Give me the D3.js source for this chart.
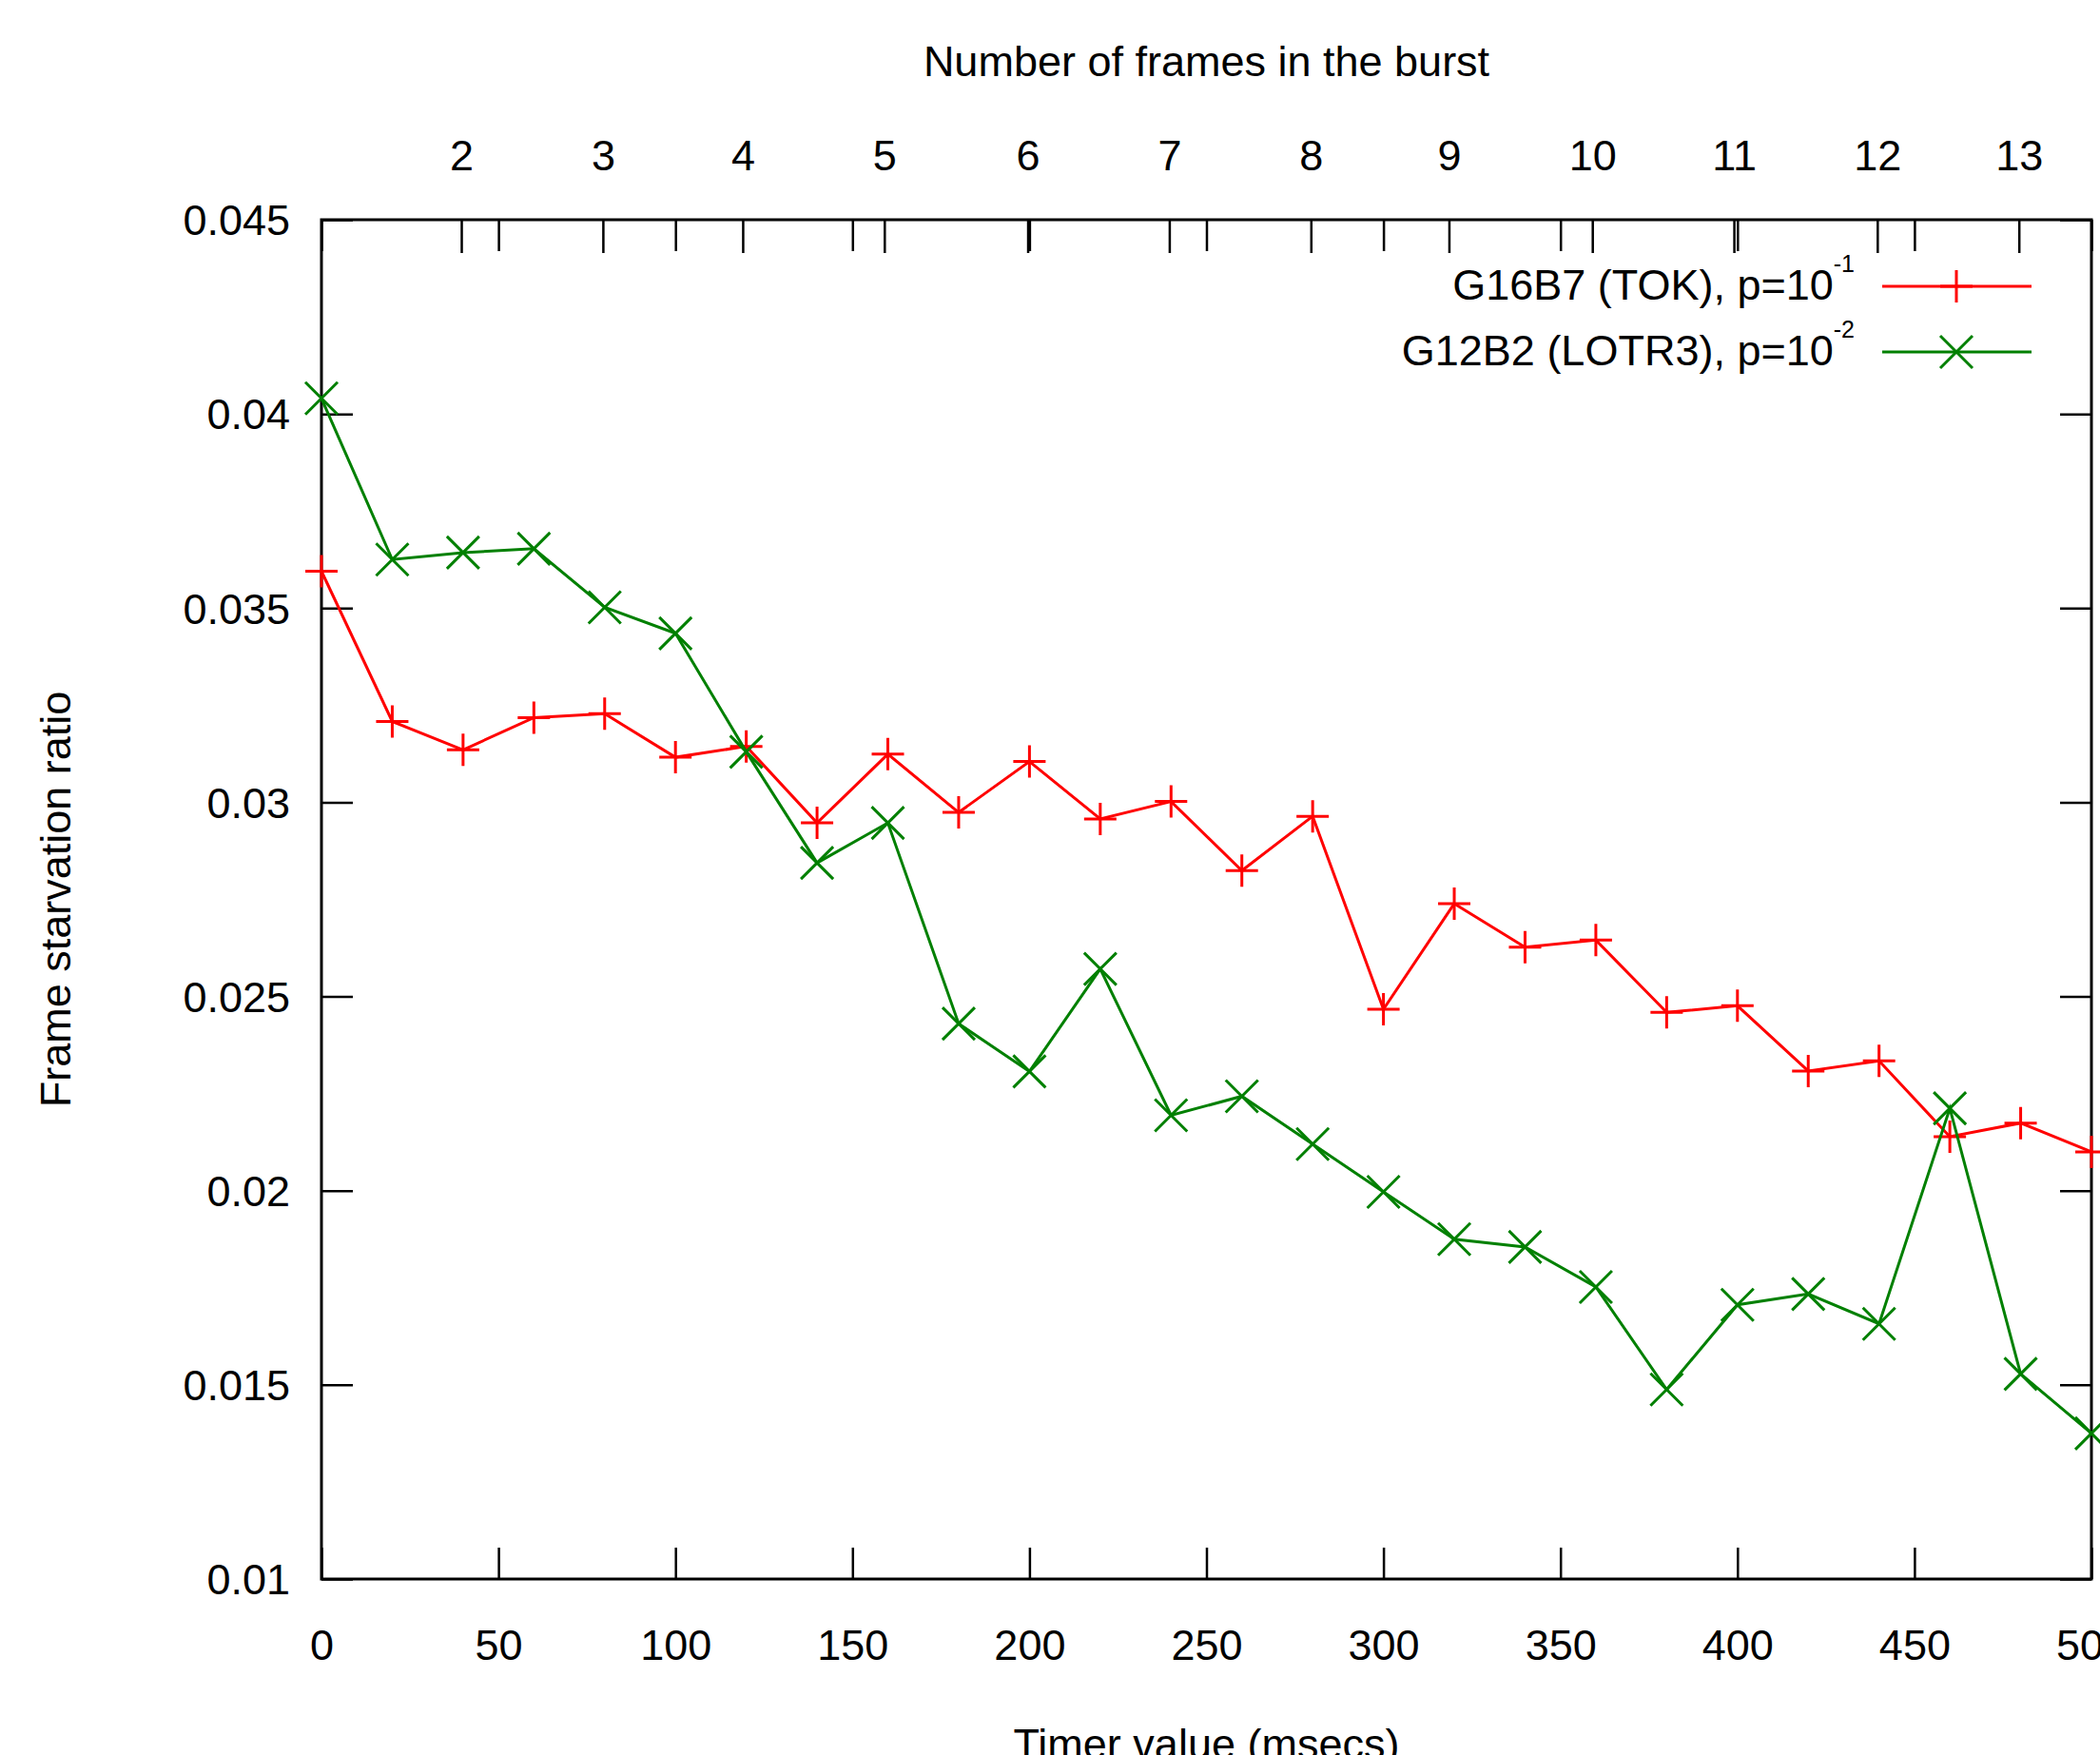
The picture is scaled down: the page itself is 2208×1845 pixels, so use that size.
<!DOCTYPE html>
<html>
<head>
<meta charset="utf-8">
<script src="https://cdn.jsdelivr.net/npm/d3@7"></script>
<style>
  body { margin: 0; background: #fff; }
  svg { display: block; }
  text { font-family: "Liberation Sans", Arial, Helvetica, sans-serif; fill: #000; }
</style>
</head>
<body>
<div id="chart"></div>
<script>
// timer values (msecs) on the x axis
var timerMs = [0, 20, 40, 60, 80, 100, 120, 140, 160, 180, 200, 220, 240,
               260, 280, 300, 320, 340, 360, 380, 400, 420, 440, 460, 480, 500];

// G16B7 (TOK), p=10^-1
var tokRatio = [0.03595, 0.03208, 0.03135, 0.03218, 0.03228, 0.03116, 0.03144,
                0.02947, 0.03124, 0.02974, 0.03105, 0.02957, 0.03002, 0.02824,
                0.02964, 0.02467, 0.02739, 0.02627, 0.02645, 0.02459, 0.02476,
                0.02308, 0.02334, 0.02139, 0.02174, 0.02100];

// G12B2 (LOTR3), p=10^-2
var lotrRatio = [0.04040, 0.03625, 0.03643, 0.03653, 0.03502, 0.03435, 0.03130,
                 0.02844, 0.02947, 0.02430, 0.02307, 0.02571, 0.02194, 0.02243,
                 0.02120, 0.01997, 0.01875, 0.01855, 0.01752, 0.01488, 0.01706,
                 0.01734, 0.01657, 0.02212, 0.01528, 0.01375];

// axis ticks
var xTicks = [0, 50, 100, 150, 200, 250, 300, 350, 400, 450, 500];
var yTicks = [0.01, 0.015, 0.02, 0.025, 0.03, 0.035, 0.04, 0.045];
var yTickLabels = ["0.01", "0.015", "0.02", "0.025", "0.03", "0.035", "0.04", "0.045"];
// top axis: number of frames in the burst, placed at timer value (msecs)
var burstLabels = ["2", "3", "4", "5", "6", "7", "8", "9", "10", "11", "12", "13"];
var burstTickMs = [39.5, 79.5, 119, 159, 199.5, 239.5, 279.5, 318.5, 359, 399, 439.5, 479.5];

var seriesNames = ["G16B7 (TOK), p=10", "G12B2 (LOTR3), p=10"];
var seriesExp = ["-1", "-2"];

(function() {
  var W = 2208, H = 1845
    , plotL = 338, plotR = 2199, plotT = 231, plotB = 1660
    , fontSize = 45
    , tickLen = 33
    , colors = ["#ff0000", "#008000"];

  var svg = d3.select("#chart").append("svg")
      .attr("width", W)
      .attr("height", H);

  svg.append("rect").attr("width", W).attr("height", H).attr("fill", "#fff");

  var x = d3.scaleLinear().domain([0, 500]).range([plotL, plotR]);
  var y = d3.scaleLinear().domain([0.01, 0.045]).range([plotB, plotT]);

  function styleAxis(g) {
    g.select(".domain").remove();
    g.attr("font-size", fontSize)
     .attr("font-family", "'Liberation Sans', Arial, sans-serif");
    g.selectAll(".tick line").attr("stroke", "#000").attr("stroke-width", 2.5);
    g.selectAll(".tick text").attr("fill", "#000");
  }

  // bottom x axis
  svg.append("g")
      .attr("transform", "translate(0," + plotB + ")")
      .call(d3.axisBottom(x).tickValues(xTicks).tickSizeInner(-tickLen).tickSizeOuter(0)
        .tickPadding(53).tickFormat(d3.format("d")))
      .call(styleAxis);

  // mirrored x ticks on top
  svg.append("g")
      .attr("transform", "translate(0," + plotT + ")")
      .call(d3.axisTop(x).tickValues(xTicks).tickSizeInner(-tickLen).tickSizeOuter(0)
        .tickFormat(""))
      .call(styleAxis);

  // top x2 axis (frames in the burst)
  svg.append("g")
      .attr("transform", "translate(0," + plotT + ")")
      .call(d3.axisTop(x).tickValues(burstTickMs).tickSizeInner(-35).tickSizeOuter(0)
        .tickPadding(52).tickFormat(function(d, i) { return burstLabels[i]; }))
      .call(styleAxis);

  // left y axis
  svg.append("g")
      .attr("transform", "translate(" + plotL + ",0)")
      .call(d3.axisLeft(y).tickValues(yTicks).tickSizeInner(-tickLen).tickSizeOuter(0)
        .tickPadding(33).tickFormat(function(d, i) { return yTickLabels[i]; }))
      .call(styleAxis)
      .selectAll(".tick text").attr("dy", "0.35em");

  // mirrored y ticks on right
  svg.append("g")
      .attr("transform", "translate(" + plotR + ",0)")
      .call(d3.axisRight(y).tickValues(yTicks).tickSizeInner(-tickLen).tickSizeOuter(0)
        .tickFormat(""))
      .call(styleAxis);

  // border
  svg.append("rect")
      .attr("x", plotL).attr("y", plotT)
      .attr("width", plotR - plotL).attr("height", plotB - plotT)
      .attr("fill", "none").attr("stroke", "#000").attr("stroke-width", 3);

  // titles
  svg.append("text")
      .attr("x", (plotL + plotR) / 2).attr("y", 80)
      .attr("text-anchor", "middle").attr("font-size", fontSize)
      .text("Number of frames in the burst");

  svg.append("text")
      .attr("x", (plotL + plotR) / 2).attr("y", 1849)
      .attr("text-anchor", "middle").attr("font-size", fontSize)
      .text("Timer value (msecs)");

  svg.append("text")
      .attr("transform", "translate(74," + (plotT + plotB) / 2 + ") rotate(-90)")
      .attr("text-anchor", "middle").attr("font-size", fontSize)
      .text("Frame starvation ratio");

  // markers: plus and cross
  var markerPaths = ["M-17,0H17M0,-17V17", "M-17,-17L17,17M-17,17L17,-17"];

  var line = d3.line()
      .x(function(d) { return x(d[0]); })
      .y(function(d) { return y(d[1]); });

  [tokRatio, lotrRatio].forEach(function(vals, s) {
    var pts = timerMs.map(function(t, i) { return [t, vals[i]]; });
    svg.append("path")
        .datum(pts)
        .attr("d", line)
        .attr("fill", "none")
        .attr("stroke", colors[s])
        .attr("stroke-width", 3);
    svg.append("g").selectAll("path")
        .data(pts)
        .enter().append("path")
        .attr("transform", function(d) { return "translate(" + x(d[0]) + "," + y(d[1]) + ")"; })
        .attr("d", markerPaths[s])
        .attr("fill", "none")
        .attr("stroke", colors[s])
        .attr("stroke-width", 3);
  });

  // legend
  var legendY = [301, 370];
  seriesNames.forEach(function(name, s) {
    var t = svg.append("text")
        .attr("x", 1950).attr("y", legendY[s] + 14)
        .attr("text-anchor", "end").attr("font-size", fontSize);
    t.append("tspan").text(name);
    t.append("tspan").attr("font-size", 25).attr("dy", -29).text(seriesExp[s]);

    svg.append("line")
        .attr("x1", 1979).attr("x2", 2136)
        .attr("y1", legendY[s]).attr("y2", legendY[s])
        .attr("stroke", colors[s]).attr("stroke-width", 3);
    svg.append("path")
        .attr("transform", "translate(2057," + legendY[s] + ")")
        .attr("d", markerPaths[s])
        .attr("fill", "none")
        .attr("stroke", colors[s])
        .attr("stroke-width", 3);
  });
})();
</script>
</body>
</html>
